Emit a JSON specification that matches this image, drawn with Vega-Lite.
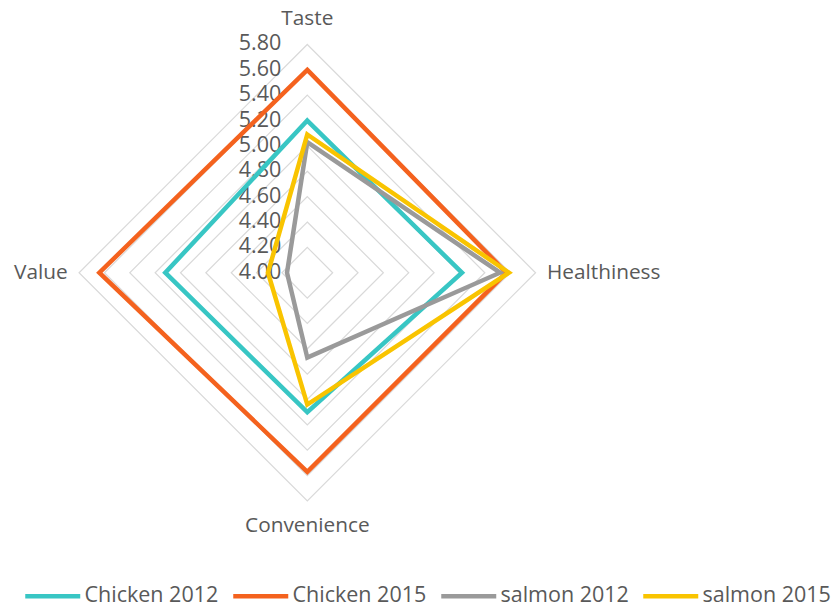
{
  "$schema": "https://vega.github.io/schema/vega-lite/v6.json",
  "width": 836,
  "height": 608,
  "autosize": "none",
  "padding": 0,
  "background": "white",
  "config": {
    "view": {"stroke": null},
    "font": "Open Sans",
    "text": {"font": "Open Sans", "fill": "#595959"}
  },
  "datasets": {
    "scores": [
      {"series": "Chicken 2012", "attribute": "Taste", "value": 5.20},
      {"series": "Chicken 2012", "attribute": "Healthiness", "value": 5.22},
      {"series": "Chicken 2012", "attribute": "Convenience", "value": 5.10},
      {"series": "Chicken 2012", "attribute": "Value", "value": 5.12},
      {"series": "Chicken 2015", "attribute": "Taste", "value": 5.60},
      {"series": "Chicken 2015", "attribute": "Healthiness", "value": 5.57},
      {"series": "Chicken 2015", "attribute": "Convenience", "value": 5.57},
      {"series": "Chicken 2015", "attribute": "Value", "value": 5.64},
      {"series": "salmon 2012", "attribute": "Taste", "value": 5.03},
      {"series": "salmon 2012", "attribute": "Healthiness", "value": 5.52},
      {"series": "salmon 2012", "attribute": "Convenience", "value": 4.67},
      {"series": "salmon 2012", "attribute": "Value", "value": 4.16},
      {"series": "salmon 2015", "attribute": "Taste", "value": 5.09},
      {"series": "salmon 2015", "attribute": "Healthiness", "value": 5.59},
      {"series": "salmon 2015", "attribute": "Convenience", "value": 5.04},
      {"series": "salmon 2015", "attribute": "Value", "value": 4.31}
    ],
    "levels": [
      {"level": 4.0}, {"level": 4.2}, {"level": 4.4}, {"level": 4.6}, {"level": 4.8},
      {"level": 5.0}, {"level": 5.2}, {"level": 5.4}, {"level": 5.6}, {"level": 5.8}
    ],
    "attributes": [
      {"attribute": "Taste"},
      {"attribute": "Healthiness"},
      {"attribute": "Convenience"},
      {"attribute": "Value"}
    ]
  },
  "layer": [
    {
      "description": "Concentric diamond gridlines, one per scale level",
      "data": {"name": "levels"},
      "transform": [
        {"filter": "datum.level > 4.01"},
        {"calculate": "['Taste', 'Healthiness', 'Convenience', 'Value']", "as": "attribute"},
        {"flatten": ["attribute"]},
        {"calculate": "indexof(['Taste', 'Healthiness', 'Convenience', 'Value'], datum.attribute)", "as": "k"},
        {"calculate": "(datum.level - 4) * sin(datum.k * PI / 2)", "as": "px"},
        {"calculate": "(datum.level - 4) * cos(datum.k * PI / 2)", "as": "py"}
      ],
      "mark": {"type": "line", "interpolate": "linear-closed", "stroke": "#D9D9D9", "strokeWidth": 1.2},
      "encoding": {
        "x": {"field": "px", "type": "quantitative", "scale": {"domain": [-2.4235, 4.1696], "nice": false, "zero": false}, "axis": null},
        "y": {"field": "py", "type": "quantitative", "scale": {"domain": [-2.6443, 2.1507], "nice": false, "zero": false}, "axis": null},
        "detail": {"field": "level", "type": "nominal"},
        "order": {"field": "k", "type": "quantitative"}
      }
    },
    {
      "description": "Radial scale labels along the Taste axis",
      "data": {"name": "levels"},
      "transform": [
        {"calculate": "0", "as": "px"},
        {"calculate": "datum.level - 4", "as": "py"}
      ],
      "mark": {"type": "text", "align": "right", "baseline": "middle", "dx": -26, "fontSize": 21.5, "fill": "#595959"},
      "encoding": {
        "x": {"field": "px", "type": "quantitative"},
        "y": {"field": "py", "type": "quantitative"},
        "text": {"field": "level", "type": "quantitative", "format": ".2f"}
      }
    },
    {
      "description": "Series polygons",
      "data": {"name": "scores"},
      "transform": [
        {"calculate": "indexof(['Taste', 'Healthiness', 'Convenience', 'Value'], datum.attribute)", "as": "k"},
        {"calculate": "(datum.value - 4) * sin(datum.k * PI / 2)", "as": "px"},
        {"calculate": "(datum.value - 4) * cos(datum.k * PI / 2)", "as": "py"}
      ],
      "mark": {"type": "line", "interpolate": "linear-closed", "strokeWidth": 4.5, "strokeJoin": "miter"},
      "encoding": {
        "x": {"field": "px", "type": "quantitative"},
        "y": {"field": "py", "type": "quantitative"},
        "order": {"field": "k", "type": "quantitative"},
        "color": {
          "field": "series",
          "type": "nominal",
          "scale": {
            "domain": ["Chicken 2012", "Chicken 2015", "salmon 2012", "salmon 2015"],
            "range": ["#38C6C4", "#F4621E", "#9A9A9A", "#F9C400"]
          },
          "legend": {
            "title": null,
            "orient": "none",
            "direction": "horizontal",
            "legendX": 20,
            "legendY": 585,
            "symbolType": "M-5,0H5",
            "symbolSize": 121,
            "symbolOffset": 22,
            "symbolStrokeWidth": 4.5,
            "labelFontSize": 21.5,
            "labelColor": "#595959",
            "labelFont": "Open Sans",
            "labelOffset": 21,
            "columnPadding": 5
          }
        }
      }
    },
    {
      "description": "Top and bottom attribute names",
      "data": {"name": "attributes"},
      "transform": [
        {"filter": "datum.attribute === 'Taste' || datum.attribute === 'Convenience'"},
        {"calculate": "indexof(['Taste', 'Healthiness', 'Convenience', 'Value'], datum.attribute)", "as": "k"},
        {"calculate": "2.0 * sin(datum.k * PI / 2)", "as": "px"},
        {"calculate": "2.0 * cos(datum.k * PI / 2)", "as": "py"}
      ],
      "mark": {"type": "text", "align": "center", "baseline": "middle", "fontSize": 20.8, "fill": "#595959"},
      "encoding": {
        "x": {"field": "px", "type": "quantitative"},
        "y": {"field": "py", "type": "quantitative"},
        "text": {"field": "attribute", "type": "nominal"}
      }
    },
    {
      "description": "Right attribute name",
      "data": {"name": "attributes"},
      "transform": [
        {"filter": "datum.attribute === 'Healthiness'"},
        {"calculate": "1.89", "as": "px"},
        {"calculate": "0", "as": "py"}
      ],
      "mark": {"type": "text", "align": "left", "baseline": "middle", "fontSize": 20.8, "fill": "#595959"},
      "encoding": {
        "x": {"field": "px", "type": "quantitative"},
        "y": {"field": "py", "type": "quantitative"},
        "text": {"field": "attribute", "type": "nominal"}
      }
    },
    {
      "description": "Left attribute name",
      "data": {"name": "attributes"},
      "transform": [
        {"filter": "datum.attribute === 'Value'"},
        {"calculate": "-1.89", "as": "px"},
        {"calculate": "0", "as": "py"}
      ],
      "mark": {"type": "text", "align": "right", "baseline": "middle", "fontSize": 20.8, "fill": "#595959"},
      "encoding": {
        "x": {"field": "px", "type": "quantitative"},
        "y": {"field": "py", "type": "quantitative"},
        "text": {"field": "attribute", "type": "nominal"}
      }
    }
  ]
}
